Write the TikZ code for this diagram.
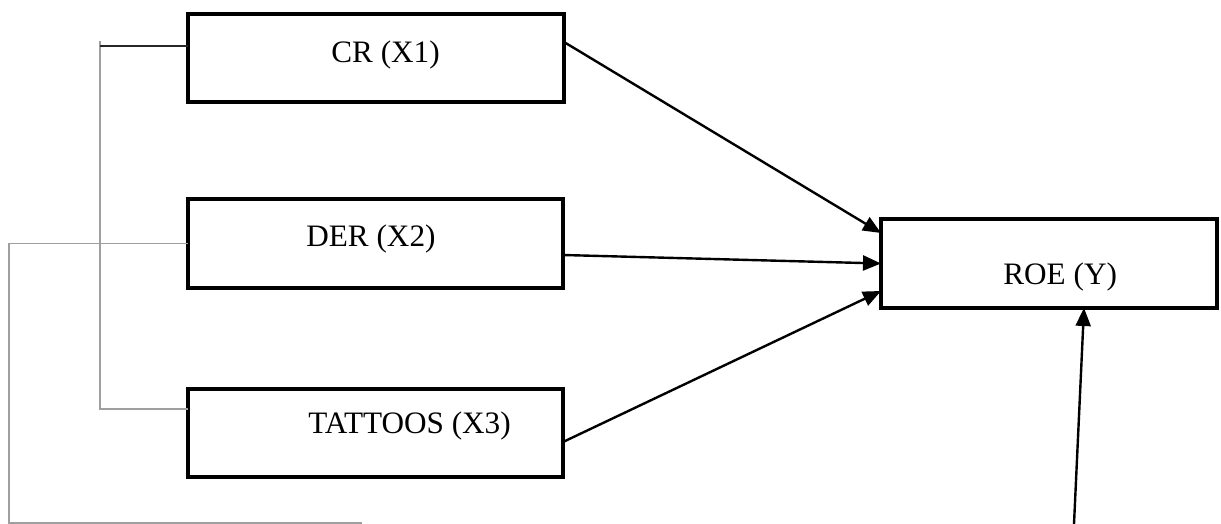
\documentclass[tikz,border=0pt]{standalone}
\usepackage{fontspec}
\setmainfont{Liberation Serif}
\usetikzlibrary{arrows.meta}
\begin{document}
\begin{tikzpicture}[x=0.5pt,y=-0.5pt,
  box/.style={draw, line width=1.6pt, inner sep=0pt, outer sep=0pt},
  lbl/.style={anchor=base west, inner sep=0pt, font=\fontsize{15.6}{18}\selectfont},
  arr/.style={line width=1.2pt, -{Triangle[length=9pt,width=7.5pt]}},
  thinline/.style={draw=gray!75, line width=0.7pt}]
\useasboundingbox (0,0) rectangle (1221,524);
% boxes
\node[box, minimum width=188pt, minimum height=44pt] (cr) at (376,58) {};
\node[box, minimum width=187.5pt, minimum height=44.5pt] (der) at (375.5,243.5) {};
\node[box, minimum width=187.5pt, minimum height=44pt] (tat) at (375.5,433) {};
\node[box, minimum width=168pt, minimum height=44.5pt] (roe) at (1049,263.5) {};
% labels
\node[lbl] (crt) at (331,63) {CR (X1)};
\node[lbl] (dert) at (306,246) {DER (X2)};
\node[lbl] (tatt) at (308,433) {TATTOOS (X3)};
\node[lbl] (roet) at (1003,284) {ROE (Y)};
% arrows
\draw[arr] ([yshift=8pt]cr.east) -- ([yshift=15.25pt]roe.west);
\draw[arr] ([yshift=-5.75pt]der.east) -- (roe.west);
\draw[arr] ([yshift=-4.5pt]tat.east) -- ([yshift=-13.75pt]roe.west);
\coordinate (bot) at (1074,524);
\draw[arr] (bot) -- ([xshift=17.5pt]roe.south);
% bracket lines
\coordinate (v1) at (100,41);
\draw[thinline] (v1) |- ([yshift=12pt]tat.west);
\draw[draw=black!85, line width=0.7pt] ([yshift=6pt]cr.west) -- ++(-88,0);
\coordinate (o1) at (9,523);
\coordinate (o2) at (362,523);
\draw[thinline] (der.west) -| (o1) -- (o2);
\end{tikzpicture}
\end{document}
